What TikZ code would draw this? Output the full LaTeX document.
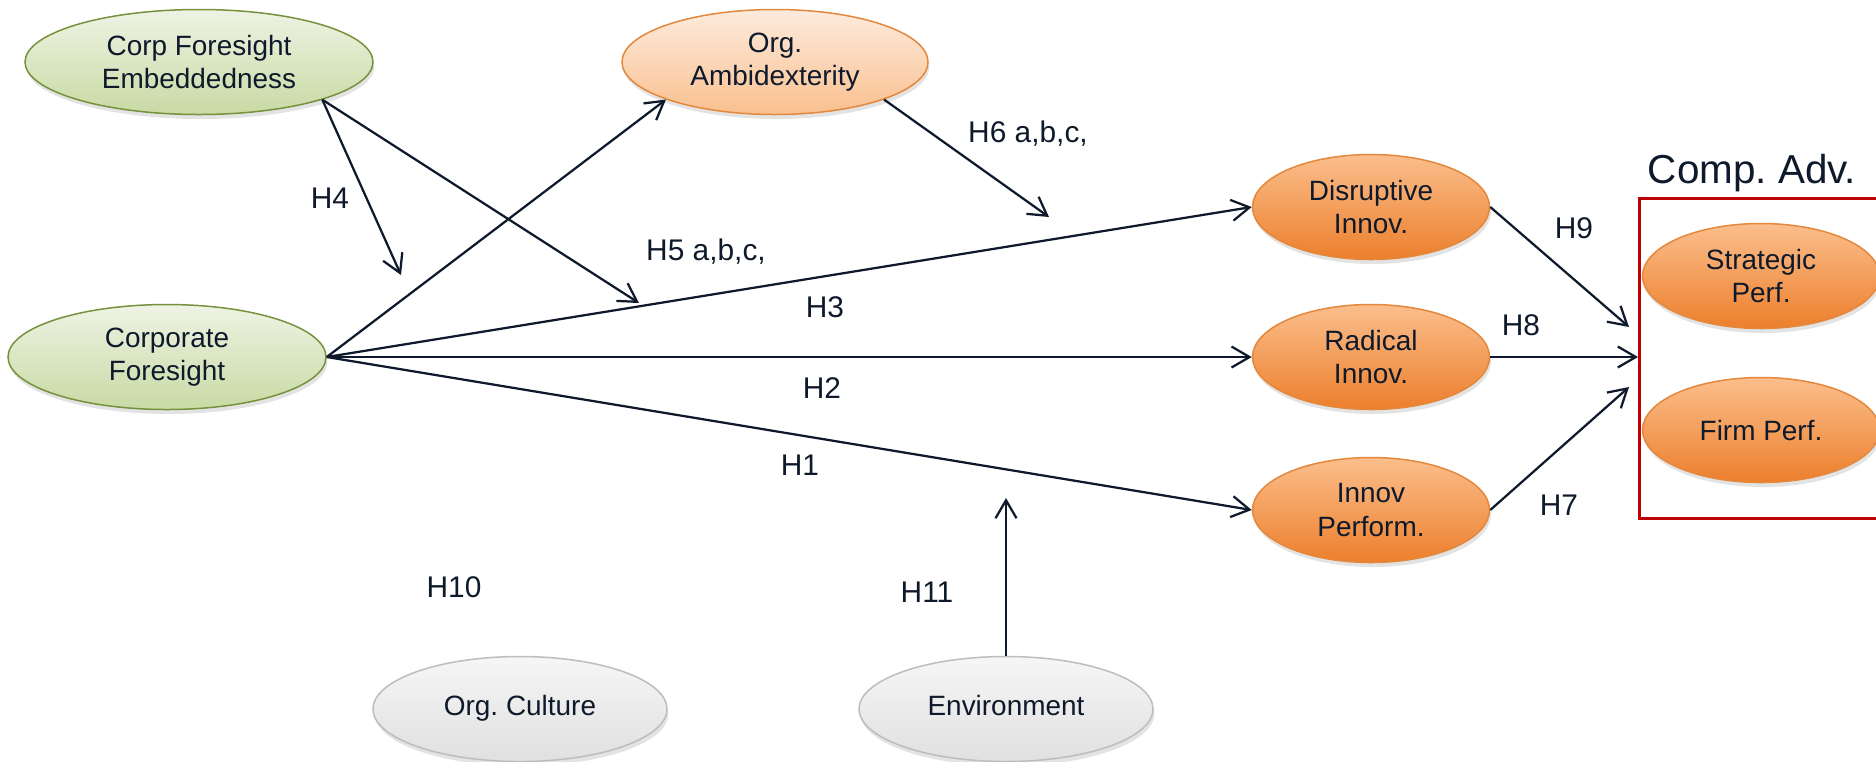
\documentclass[tikz,border=0pt]{standalone}
\usepackage{fontspec}
\setmainfont{Liberation Sans}
\usetikzlibrary{arrows.meta, shapes.geometric, positioning, shadows}
\usepackage{xcolor}
\definecolor{ink}{HTML}{0E1A2B}
\definecolor{cfgreen}{HTML}{76923C}
\definecolor{cfgreentop}{HTML}{EEF3E4}
\definecolor{cfgreenbot}{HTML}{C8DAA4}
\definecolor{peachline}{HTML}{E3883C}
\definecolor{peachtop}{HTML}{FDEBDD}
\definecolor{peachbot}{HTML}{FAC08F}
\definecolor{orangetop}{HTML}{FBBE8C}
\definecolor{orangebot}{HTML}{EC7F2C}
\definecolor{grayline}{HTML}{BDBDBD}
\definecolor{graytop}{HTML}{F6F6F6}
\definecolor{graybot}{HTML}{E0E0E0}
\definecolor{advred}{HTML}{C00000}
\frenchspacing

\begin{document}
\begin{tikzpicture}[
    x=0.2mm, y=-0.2mm,
    construct/.style={
        ellipse,
        inner sep=0pt,
        minimum height=21mm,
        line width=0.3mm,
        align=center,
        text=ink,
        font=\fontsize{15.9}{18.8}\selectfont,
        drop shadow={opacity=0.22, shadow xshift=0.3mm, shadow yshift=-0.9mm}
    },
    greenbox/.style={construct, draw=cfgreen, top color=cfgreentop, bottom color=cfgreenbot},
    peachbox/.style={construct, draw=peachline, top color=peachtop, bottom color=peachbot},
    orangebox/.style={construct, draw=peachline, top color=orangetop, bottom color=orangebot, minimum width=47.4mm},
    graybox/.style={construct, draw=grayline, top color=graytop, bottom color=graybot, minimum width=58.8mm,
        text height=0.78em, text depth=0em},
    arrow/.style={
        -{Straight Barb[length=3.6mm, width=4.2mm]},
        line width=0.45mm,
        draw=ink
    },
    hlabel/.style={
        anchor=base,
        text=ink,
        font=\fontsize{17}{20}\selectfont
    }
]

\useasboundingbox (0,0) rectangle (1876,761);

% Outcome frame
\draw[advred, line width=0.6mm] (1639,198) rectangle (1900,518);
\node[hlabel, font=\fontsize{23}{27}\selectfont] (advtitle) at (1752,183) {Comp. Adv.};

% Main constructs
\node[greenbox, minimum width=69.6mm] (cfe) at (199,62) {Corp Foresight\\Embeddedness};
\node[greenbox, minimum width=63.6mm] (cf) at (167,357) {Corporate\\Foresight};
\node[peachbox, minimum width=61.2mm] (oa) at (775,62) {Org.\\Ambidexterity};

% Innovation outcomes
\node[orangebox] (dis) at (1371,207) {Disruptive\\Innov.};
\node[orangebox] (rad) at (1371,357) {Radical\\Innov.};
\node[orangebox] (inp) at (1371,510) {Innov\\Perform.};

% Performance
\node[orangebox] (strat) at (1761,276) {Strategic\\Perf.};
\node[orangebox] (firm) at (1761,430) {Firm Perf.};

% Context
\node[graybox] (cult) at (520,709) {Org. Culture};
\node[graybox] (env) at (1006,709) {Environment};

% Free arrow ends
\coordinate (h4end) at (401,275);
\coordinate (h5end) at (639,303);
\coordinate (h6end) at (1049,217);
\coordinate (h11end) at (1006,498);
\coordinate (h9end) at (1629,327);
\coordinate (h8end) at (1638,357);
\coordinate (h7end) at (1629,387);

% Arrows
\draw[arrow] (cfe.-17) -- (h4end);
\draw[arrow] (cfe.-17) -- (h5end);
\draw[arrow] (cf.east) -- (oa.-161);
\draw[arrow] (oa.-19) -- (h6end);
\draw[arrow] (cf.east) -- (dis.west);
\draw[arrow] (cf.east) -- (rad.west);
\draw[arrow] (cf.east) -- (inp.west);
\draw[arrow] (dis.east) -- (h9end);
\draw[arrow] (rad.east) -- (h8end);
\draw[arrow] (inp.east) -- (h7end);
\draw[arrow] (env.north) -- (h11end);

% Hypotheses
\node[hlabel] (h4) at (330,208) {H4};
\node[hlabel] (h5) at (706,260) {H5 a,b,c,};
\node[hlabel] (h6) at (1028,142) {H6 a,b,c,};
\node[hlabel] (h3) at (825,317) {H3};
\node[hlabel] (h2) at (822,398) {H2};
\node[hlabel] (h1) at (800,475) {H1};
\node[hlabel] (h10) at (454,597) {H10};
\node[hlabel] (h11) at (927,602) {H11};
\node[hlabel] (h9) at (1574,238) {H9};
\node[hlabel] (h8) at (1521,335) {H8};
\node[hlabel] (h7) at (1559,515) {H7};

\end{tikzpicture}
\end{document}
